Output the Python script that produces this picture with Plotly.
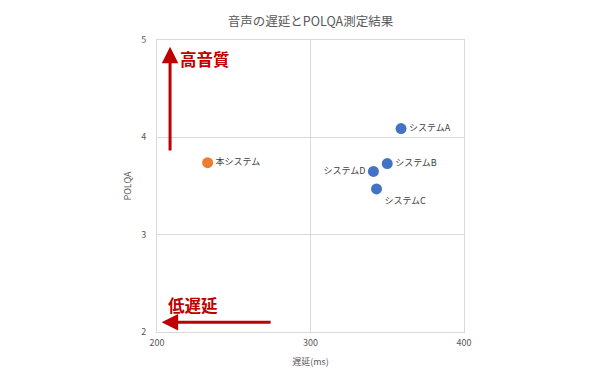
import plotly.graph_objects as go

names = ["本システム", "システムA", "システムB", "システムC", "システムD"]
delay_ms = [233, 359, 350, 343, 341]
polqa = [3.74, 4.09, 3.73, 3.47, 3.65]
colors = ["#ED7D31", "#4472C4", "#4472C4", "#4472C4", "#4472C4"]
label_pos = ["middle right", "middle right", "middle right", "bottom right", "middle left"]

x_ticks = [200, 300, 400]
y_ticks = [2, 3, 4, 5]

FONT = "Noto Sans CJK JP"
RED = "#C00000"

fig = go.Figure()
fig.add_trace(go.Scatter(
    x=delay_ms, y=polqa, mode="markers+text",
    text=names, textposition=label_pos,
    textfont=dict(family=FONT, size=9, color="#404040"),
    marker=dict(size=11, color=colors),
    cliponaxis=False, showlegend=False,
))

fig.update_layout(
    width=596, height=380,
    margin=dict(l=149, r=140, t=32, b=56),
    paper_bgcolor="white", plot_bgcolor="white",
    font=dict(family=FONT, color="#595959", size=9),
    title=dict(text="音声の遅延とPOLQA測定結果", x=0.5076, xref="container",
               xanchor="center", y=0.963, yanchor="middle",
               font=dict(family=FONT, size=12.5, color="#595959")),
    xaxis=dict(range=[200, 400], tickvals=x_ticks, showgrid=True, gridcolor="#D9D9D9",
               showline=True, mirror=True, linecolor="#D9D9D9", linewidth=1,
               zeroline=False, ticks="", ticklabelstandoff=2,
               title=dict(text="遅延(ms)", font=dict(size=9, color="#595959"), standoff=10),
               tickfont=dict(size=9, color="#595959")),
    yaxis=dict(range=[2, 5], tickvals=y_ticks, showgrid=True, gridcolor="#D9D9D9",
               showline=True, mirror=True, linecolor="#D9D9D9", linewidth=1,
               zeroline=False, ticks="", ticklabelstandoff=8,
               title=dict(text="POLQA", font=dict(size=9, color="#595959"), standoff=8),
               tickfont=dict(size=9, color="#595959")),
)

# quality arrow (up) and latency arrow (left)
fig.add_annotation(x=208.5, y=4.93, ax=208.5, ay=3.85, xref="x", yref="y", axref="x", ayref="y",
                   text="", showarrow=True, arrowhead=2, arrowsize=1.1, arrowwidth=3, arrowcolor=RED)
fig.add_annotation(x=203, y=2.10, ax=275, ay=2.10, xref="x", yref="y", axref="x", ayref="y",
                   text="", showarrow=True, arrowhead=2, arrowsize=1.1, arrowwidth=3, arrowcolor=RED)
fig.add_annotation(x=214, y=4.80, xref="x", yref="y", text="<b>高音質</b>", showarrow=False,
                   xanchor="left", yanchor="middle", font=dict(family=FONT, size=16.5, color=RED))
fig.add_annotation(x=206, y=2.28, xref="x", yref="y", text="<b>低遅延</b>", showarrow=False,
                   xanchor="left", yanchor="middle", font=dict(family=FONT, size=16.5, color=RED))

fig.write_html("out.html")
